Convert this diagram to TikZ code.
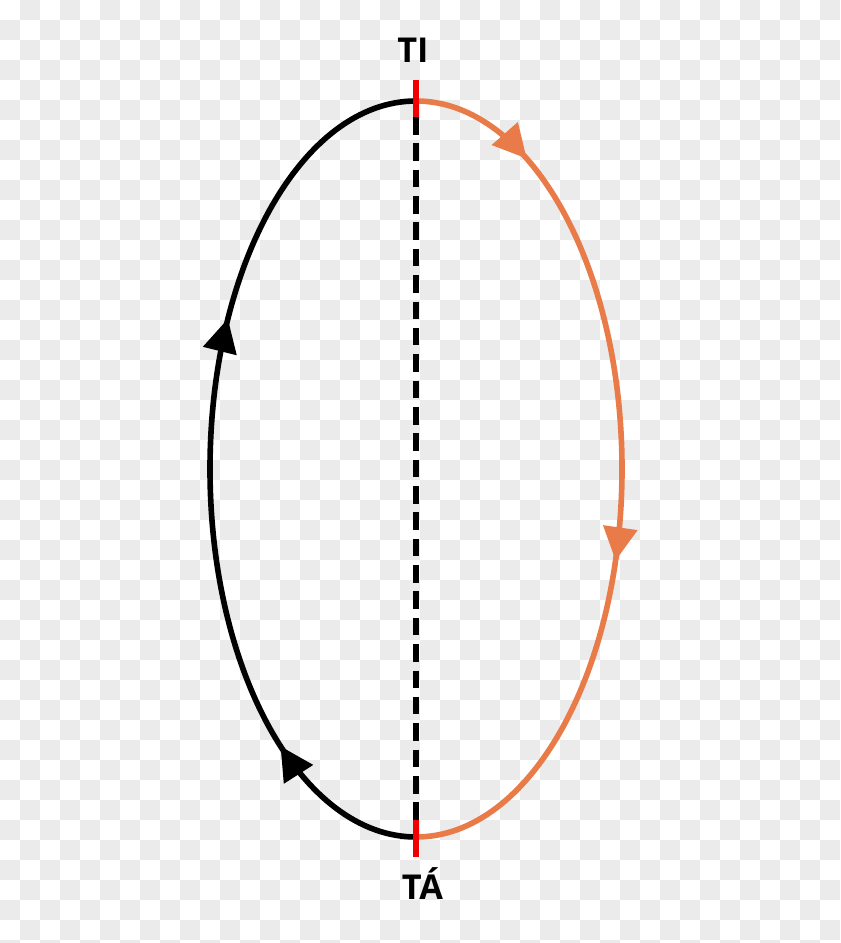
\documentclass[tikz,border=0pt]{standalone}
\usepackage{fontspec}
\setmainfont{Open Sans}
\usetikzlibrary{arrows.meta,decorations.markings}
\definecolor{curveorange}{RGB}{233,123,72}
\definecolor{tickred}{RGB}{240,0,0}
\definecolor{checkgray}{RGB}{235,235,235}

\begin{document}
\begin{tikzpicture}[
  curve/.style = {line width = 3.2pt},
  tick/.style = {line width = 3.2pt, tickred},
  midline/.style = {line width = 3.2pt, dash pattern = on 10pt off 5pt},
  beat/.style = {font = \bfseries\fontsize{#1}{#1}\selectfont, anchor = base, inner sep = 0pt},
  twoheads/.style 2 args = {decoration = {markings,
      mark = at position #1 with {\arrow{Triangle[length = 19pt, width = 19pt]}},
      mark = at position #2 with {\arrow{Triangle[length = 19pt, width = 19pt]}}},
    postaction = decorate}
]
\useasboundingbox (-8.32, -9.48) rectangle (8.48, 9.38);
\fill[white] (-8.32, -9.48) rectangle (8.48, 9.38);
\begin{scope}
\clip (-8.32, -9.48) rectangle (8.48, 9.38);
\foreach \i in {0,...,41} {
  \foreach \j in {0,...,47} {
    \pgfmathtruncatemacro\sumij{\i + \j}
    \ifodd\sumij
      \fill[checkgray] (-8.32 + 0.4*\i, 9.38 - 0.4*\j) rectangle ++(0.4, -0.4);
    \fi
  }
}
\end{scope}

\coordinate (top) at (0.0, 7.36);
\coordinate (bot) at (0.0, -7.36);
\coordinate (toptick) at (0.0, 7.78);
\coordinate (topdash) at (0.0, 7.04);
\coordinate (bottick) at (0.0, -7.76);
\coordinate (botdash) at (0.0, -7.02);

\draw[midline] (topdash) -- (botdash);
\draw[curve, curveorange, twoheads = {0.14}{0.6}] (top) arc [start angle = 90, end angle = -90, x radius = 4.12, y radius = 7.36];
\draw[curve, black, twoheads = {0.185}{0.665}] (bot) arc [start angle = 270, end angle = 90, x radius = 4.12, y radius = 7.36];
\draw[tick] (toptick) -- (topdash);
\draw[tick] (botdash) -- (bottick);

\node[beat = 19.5] (ti) at (-0.06, 8.12) {TI};
\node[beat = 19.5] (ta) at (0.13, -8.6) {TÁ};
\end{tikzpicture}
\end{document}
